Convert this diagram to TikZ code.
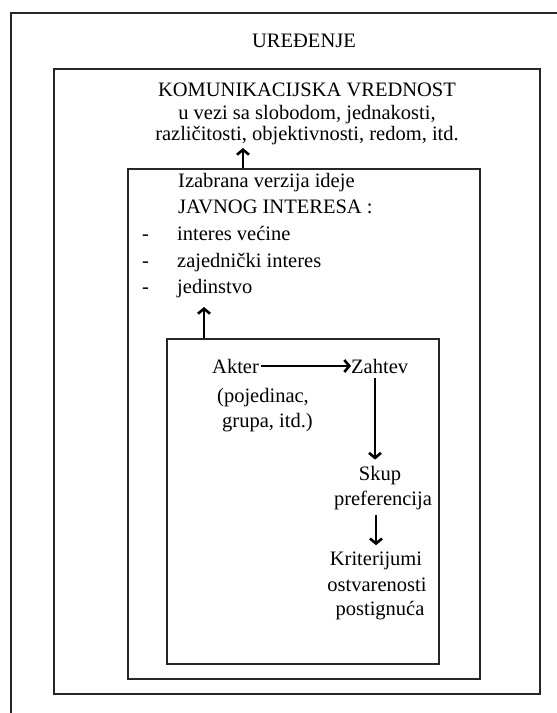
\documentclass[tikz,border=0pt]{standalone}
\usepackage{fontspec}
\setmainfont{Liberation Serif}
\usetikzlibrary{arrows.meta}
\newcommand{\lblfont}{\fontsize{20.5}{24}\selectfont}
\tikzset{
  lbl/.style={inner sep=0pt, anchor=base, font=\lblfont},
  lblw/.style={inner sep=0pt, anchor=base west, font=\lblfont},
  frame/.style={draw=black!85, line width=1.7pt, inner sep=0pt, anchor=north west},
  arr/.style={line width=2.6pt, -{Straight Barb[length=5pt,width=12pt]}}
}
\begin{document}
\begin{tikzpicture}[x=1pt,y=-1pt]
\useasboundingbox (0,0) rectangle (557,713);
\clip (0,0) rectangle (557,713);
% frames
\node[frame, minimum width=600pt, minimum height=760pt] (outer) at (10,12) {};
\node[frame, minimum width=486pt, minimum height=625pt] (b2) at (53,68) {};
\node[frame, minimum width=352pt, minimum height=510pt] (b3) at (127,168) {};
\node[frame, minimum width=272pt, minimum height=325pt] (b4) at (166,338) {};
% texts
\node[lbl] (ured) at (304,47) {UREĐENJE};
\node[lbl] (kom1) at (307,96) {KOMUNIKACIJSKA VREDNOST};
\node[lbl] (kom2) at (307,119) {u vezi sa slobodom, jednakosti,};
\node[lbl] (kom3) at (307,140) {različitosti, objektivnosti, redom, itd.};
\node[lblw] (iz1) at (178,187) {Izabrana verzija ideje};
\node[lblw] (iz2) at (178,213) {JAVNOG INTERESA :};
\node[lblw] (d1) at (142,240) {-};
\node[lblw] (d2) at (142,267) {-};
\node[lblw] (d3) at (142,293) {-};
\node[lblw] (i1) at (177,240) {interes većine};
\node[lblw] (i2) at (177,267) {zajednički interes};
\node[lblw] (i3) at (177,293) {jedinstvo};
\node[lblw] (akter) at (212,373) {Akter};
\node[lblw] (ak2) at (217,402) {(pojedinac,};
\node[lblw] (ak3) at (222,427) {grupa, itd.)};
\node[lblw] (zahtev) at (351,373) {Zahtev};
\node[lbl] (skup) at (380,480) {Skup};
\node[lbl] (pref) at (383,505) {preferencija};
\node[lbl] (krit) at (376,565) {Kriterijumi};
\node[lbl] (ostv) at (377,591) {ostvarenosti};
\node[lbl] (post) at (380,615) {postignuća};
% arrows
\coordinate (x1) at (243,148);
\coordinate (x2) at (204,307);
\coordinate (x3) at (375,0);
\coordinate (x4) at (376,0);
\draw[arr] (x1 |- b3.north) -- (x1);
\draw[arr] (x2 |- b4.north) -- (x2);
\draw[arr] ([xshift=2pt]akter.east) -- (akter.east -| zahtev.west);
\draw[arr] ([yshift=-5pt]x3 |- zahtev.south) -- ([yshift=6pt]x3 |- skup.north);
\draw[arr] ([yshift=-5pt]x4 |- pref.south) -- ([yshift=6pt]x4 |- krit.north);
\end{tikzpicture}
\end{document}
